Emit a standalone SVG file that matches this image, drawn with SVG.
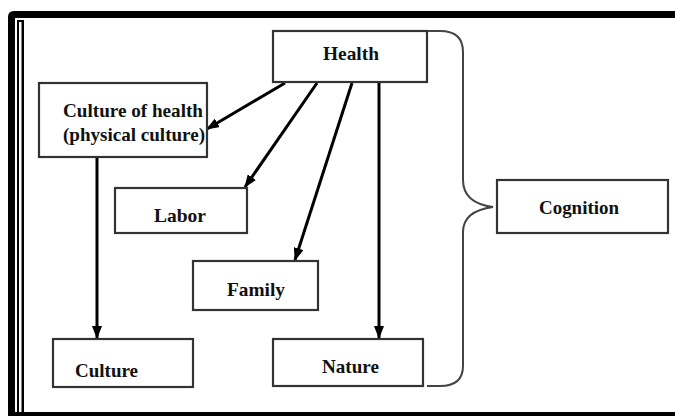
<svg xmlns="http://www.w3.org/2000/svg" width="675" height="416" viewBox="0 0 675 416">
<style>
.box{fill:#fff;stroke:#333;stroke-width:2.2}
.t{font-family:"Liberation Serif","Times New Roman",serif;font-weight:bold;font-size:19px;fill:#111}
.arr{stroke:#000;stroke-width:3;fill:none;marker-end:url(#ah)}
.brace{fill:none;stroke:#444;stroke-width:2}
</style>
<defs>
<marker id="ah" viewBox="0 0 13 10" refX="12" refY="5" markerWidth="13" markerHeight="10" markerUnits="userSpaceOnUse" orient="auto">
<path d="M0,0 L13,5 L0,10 Z" fill="#000"/>
</marker>
</defs>
<rect width="675" height="416" fill="#fff"/>
<g id="frame">
<path d="M8,412 V17 Q8,11 14,11 H675 V18 H15 V412 Z" fill="#000"/>
<rect x="17" y="20" width="7" height="392" fill="#000"/>
<rect x="19" y="22" width="2.5" height="390" fill="#fff"/>
<rect x="8" y="412" width="667" height="4" fill="#000"/>
</g>
<g id="connectors">
<line class="arr" x1="285" y1="83" x2="207" y2="129"/>
<line class="arr" x1="317" y1="83" x2="245" y2="187"/>
<line class="arr" x1="352" y1="83" x2="295" y2="260"/>
<line class="arr" x1="379" y1="83" x2="379" y2="338"/>
<line class="arr" x1="97" y1="157" x2="97" y2="338"/>
<path class="brace" d="M427,31 H440 Q463,31 463,52 V180 Q463,203 493,207 Q463,211 463,232 V366 Q463,386 440,386 H427"/>
</g>
<g id="health"><rect class="box" x="273" y="31" width="154" height="51"/><text class="t" x="323" y="60" textLength="56" lengthAdjust="spacingAndGlyphs">Health</text></g>
<g id="culture-of-health"><rect class="box" x="39" y="83" width="168" height="74"/><text class="t" x="63" y="117" textLength="140" lengthAdjust="spacingAndGlyphs">Culture of health</text><text class="t" x="63" y="141" textLength="142" lengthAdjust="spacingAndGlyphs">(physical culture)</text></g>
<g id="labor"><rect class="box" x="115" y="188" width="132" height="45"/><text class="t" x="154" y="222" textLength="52" lengthAdjust="spacingAndGlyphs">Labor</text></g>
<g id="family"><rect class="box" x="193" y="261" width="125" height="49"/><text class="t" x="227" y="296" textLength="58" lengthAdjust="spacingAndGlyphs">Family</text></g>
<g id="culture"><rect class="box" x="53" y="339" width="140" height="48"/><text class="t" x="75" y="377" textLength="63" lengthAdjust="spacingAndGlyphs">Culture</text></g>
<g id="nature"><rect class="box" x="273" y="339" width="150" height="47"/><text class="t" x="322" y="373" textLength="57" lengthAdjust="spacingAndGlyphs">Nature</text></g>
<g id="cognition"><rect class="box" x="497" y="180" width="171" height="53"/><text class="t" x="539" y="214" textLength="80" lengthAdjust="spacingAndGlyphs">Cognition</text></g>
</svg>
